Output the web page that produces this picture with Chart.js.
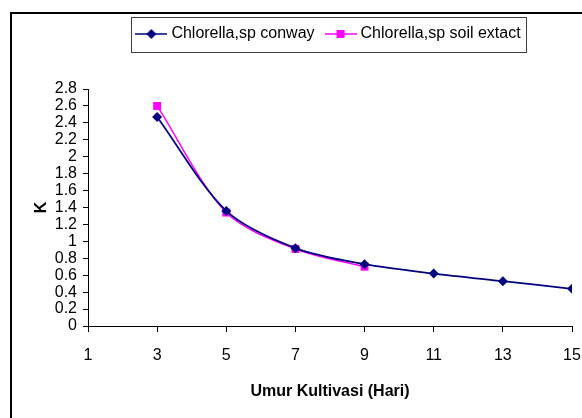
<!DOCTYPE html>
<html>
<head>
<meta charset="utf-8">
<script src="https://cdn.jsdelivr.net/npm/chart.js@4"></script>
<style>
  html, body { margin: 0; padding: 0; background: #fff; }
  #wrap { position: relative; width: 582px; height: 418px; }
</style>
</head>
<body>
<div id="wrap"><canvas id="k-chart"></canvas></div>
<script>
// Umur kultivasi (hari) vs K
const days = [3, 5, 7, 9, 11, 13, 15];
const conwayK = [2.47, 1.36, 0.92, 0.73, 0.62, 0.53, 0.44];
const soilDays = [3, 5, 7, 9];
const soilK = [2.60, 1.34, 0.91, 0.70];
const xTicks = [1, 3, 5, 7, 9, 11, 13, 15];
const yTicks = [0, 0.2, 0.4, 0.6, 0.8, 1, 1.2, 1.4, 1.6, 1.8, 2, 2.2, 2.4, 2.6, 2.8];

const NAVY = '#000080';
const MAGENTA = '#ff00ff';
const FONT = "'Liberation Sans', Arial, sans-serif";

function toPoints(xs, ys) {
    return xs.map((x, i) => ({ x: x, y: ys[i] }));
}

// legend icon: short line with the marker in the middle
function legendIcon(color, shape) {
    const c = document.createElement('canvas');
    c.width = 32;
    c.height = 12;
    const g = c.getContext('2d');
    g.strokeStyle = color;
    g.lineWidth = 1.5;
    g.beginPath();
    g.moveTo(0, 6);
    g.lineTo(32, 6);
    g.stroke();
    g.fillStyle = color;
    g.beginPath();
    if (shape === 'diamond') {
        g.moveTo(16, 1); g.lineTo(21, 6); g.lineTo(16, 11); g.lineTo(11, 6);
    } else {
        g.rect(12, 2, 8, 8);
    }
    g.closePath();
    g.fill();
    return c;
}

const icons = [legendIcon(NAVY, 'diamond'), legendIcon(MAGENTA, 'square')];

const frameAndLegendBox = {
    id: 'frameAndLegendBox',
    beforeInit(chart) {
        const origFit = chart.legend.fit;
        chart.legend.fit = function fit() {
            origFit.bind(chart.legend)();
            this.height += 37;
        };
    },
    afterDraw(chart) {
        const ctx = chart.ctx;
        ctx.save();
        // outer frame
        ctx.strokeStyle = '#000';
        ctx.lineWidth = 2;
        ctx.beginPath();
        ctx.moveTo(11, 430);
        ctx.lineTo(11, 13);
        ctx.lineTo(600, 13);
        ctx.stroke();
        // legend border
        const boxes = chart.legend.legendHitBoxes;
        if (boxes && boxes.length) {
            const first = boxes[0];
            const last = boxes[boxes.length - 1];
            const left = Math.round(first.left - 8) + 0.5;
            const right = Math.round(last.left + last.width + 5) + 0.5;
            const top = Math.round(first.top - 9) + 0.5;
            const bottom = Math.round(first.top + first.height + 10) + 0.5;
            ctx.strokeStyle = '#404040';
            ctx.lineWidth = 1;
            ctx.strokeRect(left, top, right - left, bottom - top);
        }
        ctx.restore();
    }
};

const ctx = document.getElementById('k-chart').getContext('2d');
new Chart(ctx, {
    type: 'line',
    data: {
        datasets: [
            {
                label: 'Chlorella,sp conway',
                data: toPoints(days, conwayK),
                borderColor: NAVY,
                backgroundColor: NAVY,
                borderWidth: 1.75,
                tension: 0.3,
                pointStyle: 'rectRot',
                pointRadius: 5,
                pointBorderWidth: 0,
                pointBackgroundColor: NAVY,
                fill: false
            },
            {
                label: 'Chlorella,sp soil extact',
                data: toPoints(soilDays, soilK),
                borderColor: MAGENTA,
                backgroundColor: MAGENTA,
                borderWidth: 1.5,
                tension: 0.3,
                pointStyle: 'rect',
                pointRadius: 5.6,
                pointBorderWidth: 0,
                pointBackgroundColor: MAGENTA,
                fill: false
            }
        ]
    },
    options: {
        responsive: true,
        maintainAspectRatio: false,
        animation: false,
        layout: { padding: { top: 12, right: 10, bottom: 0, left: 0 } },
        plugins: {
            legend: {
                position: 'top',
                fullSize: false,
                labels: {
                    color: '#000',
                    font: { family: FONT, size: 16 },
                    usePointStyle: true,
                    pointStyleWidth: 24,
                    padding: 14,
                    generateLabels(chart) {
                        const items = Chart.defaults.plugins.legend.labels.generateLabels(chart);
                        items.forEach((it, i) => { it.pointStyle = icons[i]; });
                        return items;
                    }
                }
            },
            tooltip: { enabled: false }
        },
        scales: {
            x: {
                type: 'linear',
                min: 1,
                max: 15,
                afterFit(scale) {
                    scale.height = 92;
                    scale.paddingLeft = 0;
                    scale.paddingRight = 0;
                },
                afterBuildTicks(scale) { scale.ticks = xTicks.map(v => ({ value: v })); },
                grid: {
                    drawOnChartArea: false,
                    drawTicks: true,
                    tickLength: 6,
                    color: '#000'
                },
                border: { display: true, color: '#000', width: 1 },
                ticks: {
                    color: '#000',
                    padding: 14,
                    maxRotation: 0,
                    autoSkip: false,
                    font: { family: FONT, size: 16 }
                },
                title: {
                    display: true,
                    text: 'Umur Kultivasi (Hari)',
                    color: '#000',
                    font: { family: FONT, size: 16, weight: 'bold' },
                    padding: { top: 4, bottom: 17 }
                }
            },
            y: {
                min: 0,
                max: 2.8,
                afterFit(scale) { scale.width = 88; },
                afterBuildTicks(scale) { scale.ticks = yTicks.map(v => ({ value: v })); },
                grid: {
                    drawOnChartArea: false,
                    drawTicks: true,
                    tickLength: 5,
                    color: '#000'
                },
                border: { display: true, color: '#000', width: 1 },
                ticks: {
                    color: '#000',
                    padding: 6,
                    autoSkip: false,
                    font: { family: FONT, size: 16 },
                    callback: (v) => String(Math.round(v * 10) / 10)
                },
                title: {
                    display: true,
                    text: 'K',
                    color: '#000',
                    font: { family: FONT, size: 16, weight: 'bold' },
                    padding: { top: 32, bottom: 0 }
                }
            }
        }
    },
    plugins: [frameAndLegendBox]
});
</script>
</body>
</html>
